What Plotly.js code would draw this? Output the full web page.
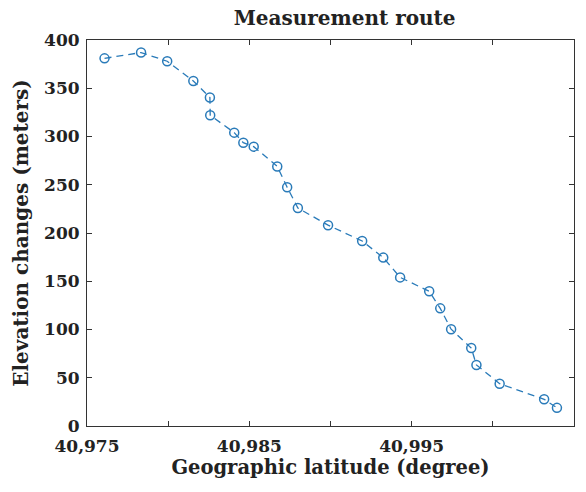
<!DOCTYPE html>
<html>
<head>
<meta charset="utf-8">
<script src="https://cdn.plot.ly/plotly-3.0.1.min.js"></script>
<style>html,body{margin:0;padding:0;background:#fff;}#chart{width:586px;height:492px;}</style>
</head>
<body>
<div id="chart"></div>
<script>
// Data
var latitude = [40.97608, 40.97833, 40.97994, 40.98155, 40.98257, 40.98259, 40.98407, 40.98463,
                40.98527, 40.98672, 40.98733, 40.98799, 40.98985, 40.99195, 40.99325, 40.99429,
                40.99608, 40.99676, 40.99743, 40.99867, 40.99899, 41.00042, 41.00316, 41.00395];
var elevation = [381, 387, 378, 357.6, 340.5, 322, 304, 293.6,
                 289.5, 269, 247.4, 225.9, 208.1, 191.7, 174.5, 154,
                 139.6, 121.9, 100.3, 80.8, 63.3, 43.8, 27.7, 18.8];
var xTickVals = [40.975, 40.98, 40.985, 40.99, 40.995, 41.0, 41.005];
var xTickText = ['40,975', '', '40,985', '', '40,995', '', '41,005'];
var yTickVals = [0, 50, 100, 150, 200, 250, 300, 350, 400];

var font = 'DejaVu Serif, Liberation Serif, serif';
var trace = {
  x: latitude, y: elevation, type: 'scatter', mode: 'lines+markers',
  line: {color: '#2a7bb9', width: 1.3, dash: '7px,5px'},
  marker: {symbol: 'circle-open', size: 9, color: '#2a7bb9', line: {width: 1.5, color: '#2a7bb9'}}
};
var layout = {
  width: 586, height: 492,
  margin: {l: 87, r: 12, t: 40, b: 66},
  paper_bgcolor: '#fff', plot_bgcolor: '#fff',
  showlegend: false,
  title: {text: '<b>Measurement route</b>', font: {family: font, size: 20, color: '#222'},
          xref: 'paper', x: 0.529, xanchor: 'center', y: 0.963, yanchor: 'middle'},
  xaxis: {
    range: [40.975, 41.005], tickvals: xTickVals, ticktext: xTickText,
    ticks: 'inside', ticklen: 5, tickcolor: '#333', tickwidth: 1,
    showline: true, linecolor: '#333', linewidth: 1, mirror: 'ticks',
    showgrid: false, zeroline: false, ticklabelstandoff: 5,
    tickfont: {family: font, size: 17, color: '#222', weight: 'bold'},
    title: {text: '<b>Geographic latitude (degree)</b>', font: {family: font, size: 19.5, color: '#222'}, standoff: 4}
  },
  yaxis: {
    range: [0, 400], tickvals: yTickVals,
    ticks: 'inside', ticklen: 5, tickcolor: '#333', tickwidth: 1,
    showline: true, linecolor: '#333', linewidth: 1, mirror: 'ticks',
    showgrid: false, zeroline: false, ticklabelstandoff: 3,
    tickfont: {family: font, size: 17, color: '#222', weight: 'bold'},
    title: {text: '<b>Elevation changes (meters)</b>', font: {family: font, size: 20, color: '#222'}, standoff: 10}
  }
};
Plotly.newPlot('chart', [trace], layout, {displayModeBar: false, staticPlot: true});
</script>
</body>
</html>
